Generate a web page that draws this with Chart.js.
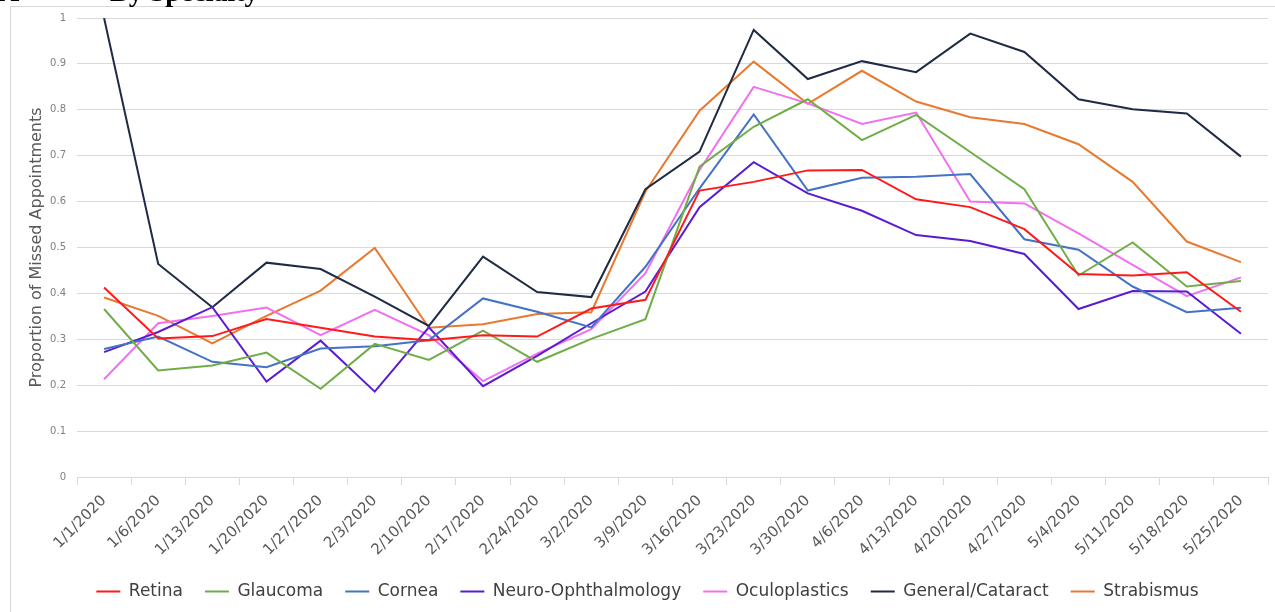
<!DOCTYPE html>
<html>
<head>
<meta charset="utf-8">
<script src="https://cdn.jsdelivr.net/npm/chart.js@4"></script>
<style>
  html, body { margin: 0; padding: 0; background: #fff; overflow: hidden; }
  #wrap { position: relative; width: 1275px; height: 612px; }
  #frame { position: absolute; left: 10px; top: 6px; width: 1300px; height: 700px; border: 1px solid #d9d9d9; }
  .heading { position: absolute; top: -24px; font: bold 28px "Liberation Serif", serif; color: #000; white-space: pre; }
  canvas { position: absolute; left: 0; top: 0; }
</style>
</head>
<body>
<div id="wrap">
  <div id="frame"></div>
  <canvas id="chart" width="1275" height="612"></canvas>
  <div class="heading" style="left:-1px">A</div>
  <div class="heading" style="left:110px">By Specialty</div>
</div>
<script>
const dates = ['1/1/2020', '1/6/2020', '1/13/2020', '1/20/2020', '1/27/2020', '2/3/2020', '2/10/2020',
  '2/17/2020', '2/24/2020', '3/2/2020', '3/9/2020', '3/16/2020', '3/23/2020', '3/30/2020', '4/6/2020',
  '4/13/2020', '4/20/2020', '4/27/2020', '5/4/2020', '5/11/2020', '5/18/2020', '5/25/2020'];

const retina = [0.413, 0.302, 0.307, 0.344, 0.325, 0.306, 0.298, 0.309, 0.306, 0.367, 0.386,
  0.624, 0.643, 0.668, 0.669, 0.605, 0.588, 0.540, 0.442, 0.439, 0.446, 0.360];
const glaucoma = [0.366, 0.232, 0.243, 0.271, 0.192, 0.290, 0.255, 0.319, 0.251, 0.301, 0.344,
  0.676, 0.763, 0.823, 0.734, 0.789, 0.708, 0.627, 0.439, 0.511, 0.415, 0.427];
const cornea = [0.279, 0.306, 0.251, 0.239, 0.280, 0.285, 0.298, 0.389, 0.360, 0.326, 0.458,
  0.629, 0.790, 0.624, 0.652, 0.654, 0.660, 0.518, 0.495, 0.415, 0.359, 0.369];
const neuro = [0.272, 0.316, 0.370, 0.208, 0.297, 0.186, 0.326, 0.198, 0.264, 0.335, 0.404,
  0.588, 0.686, 0.618, 0.580, 0.527, 0.514, 0.486, 0.366, 0.405, 0.404, 0.312];
const oculo = [0.213, 0.335, 0.351, 0.369, 0.309, 0.364, 0.309, 0.209, 0.269, 0.322, 0.444,
  0.669, 0.850, 0.814, 0.769, 0.794, 0.600, 0.596, 0.531, 0.462, 0.394, 0.435];
const cataract = [1.0, 0.464, 0.370, 0.467, 0.453, 0.393, 0.329, 0.480, 0.403, 0.392, 0.627,
  0.709, 0.974, 0.867, 0.906, 0.882, 0.966, 0.926, 0.823, 0.801, 0.792, 0.698];
const strabismus = [0.391, 0.351, 0.291, 0.351, 0.406, 0.499, 0.325, 0.333, 0.355, 0.359, 0.622,
  0.798, 0.905, 0.813, 0.885, 0.818, 0.784, 0.769, 0.725, 0.643, 0.513, 0.468];

const yTicks = [0, 0.1, 0.2, 0.3, 0.4, 0.5, 0.6, 0.7, 0.8, 0.9, 1];

function series(label, data, color) {
  return { label: label, data: data, borderColor: color, backgroundColor: color,
    borderWidth: 2, pointRadius: 0, tension: 0, fill: false };
}

new Chart(document.getElementById('chart'), {
  type: 'line',
  data: {
    labels: dates,
    datasets: [
      series('Retina', retina, '#ff1a1a'),
      series('Glaucoma', glaucoma, '#70ad47'),
      series('Cornea', cornea, '#4472c4'),
      series('Neuro-Ophthalmology', neuro, '#5a1cd2'),
      series('Oculoplastics', oculo, '#f070f0'),
      series('General/Cataract', cataract, '#1f2b45'),
      series('Strabismus', strabismus, '#e8792f')
    ]
  },
  options: {
    responsive: false,
    animation: false,
    layout: { padding: { left: 27, top: 18, right: 7, bottom: 2 } },
    plugins: {
      legend: {
        position: 'bottom',
        labels: {
          usePointStyle: true,
          pointStyle: 'line',
          pointStyleWidth: 24,
          boxWidth: 24,
          padding: 22,
          color: '#404040',
          font: { family: 'DejaVu Sans', size: 17 }
        }
      },
      tooltip: { enabled: false }
    },
    scales: {
      x: {
        offset: true,
        grid: { offset: true, drawOnChartArea: false, drawTicks: true, tickLength: 8, color: '#d9d9d9' },
        border: { color: '#d9d9d9' },
        ticks: { minRotation: 45, maxRotation: 45, autoSkip: false, color: '#595959', padding: 7,
          font: { family: 'DejaVu Sans', size: 15 } },
        afterFit: function (scale) { scale.height = 84; }
      },
      y: {
        min: 0, max: 1,
        afterBuildTicks: function (scale) { scale.ticks = yTicks.map(function (v) { return { value: v }; }); },
        grid: { color: '#d9d9d9', drawTicks: false },
        border: { display: false },
        ticks: { color: '#7f7f7f', padding: 11, font: { family: 'DejaVu Sans', size: 10 },
          callback: function (v) { return String(Math.round(v * 10) / 10); } },
        title: { display: true, text: 'Proportion of Missed Appointments', color: '#595959',
          font: { family: 'DejaVu Sans', size: 16 }, padding: 0 },
        afterFit: function (scale) { scale.width = 50; }
      }
    }
  }
});
</script>
</body>
</html>
